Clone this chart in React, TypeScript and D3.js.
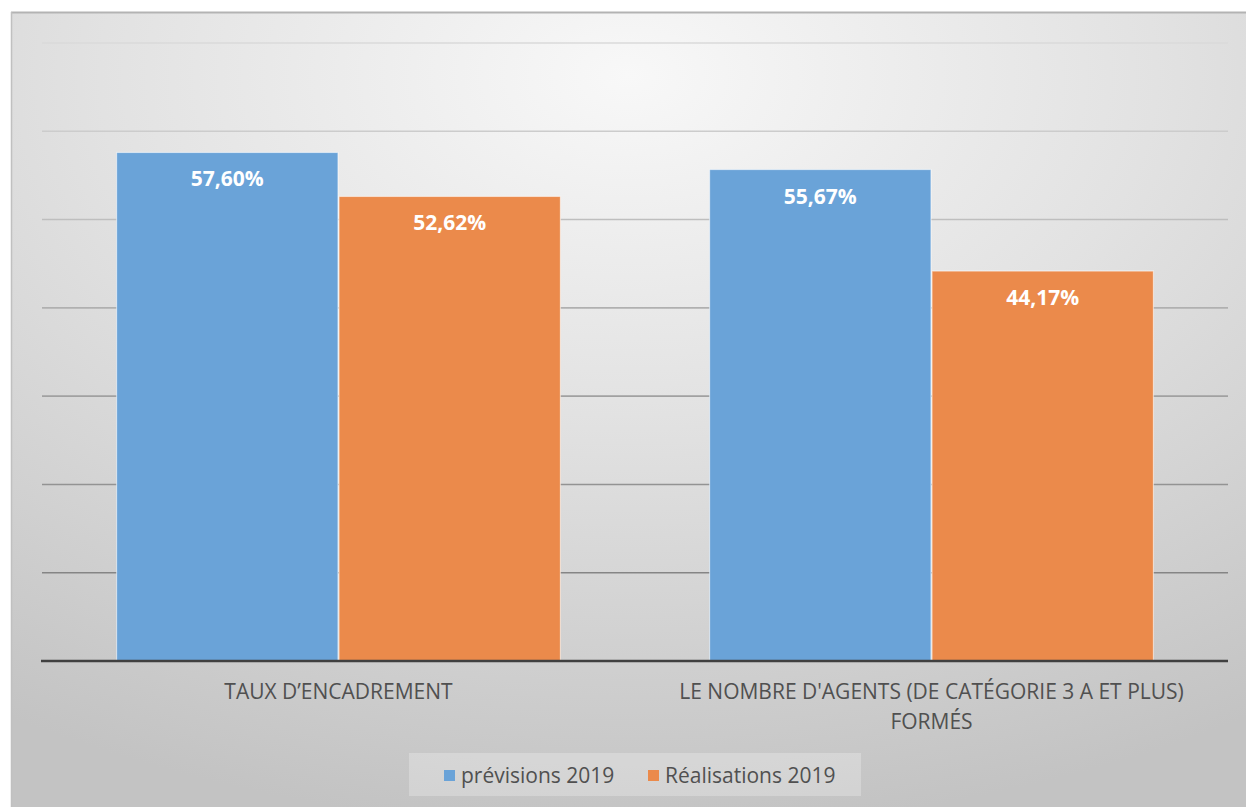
import React from "react";
import * as d3 from "d3";

const categories = [
  "TAUX D’ENCADREMENT",
  "LE NOMBRE D'AGENTS (DE CATÉGORIE 3 A ET PLUS)\nFORMÉS",
];
const seriesNames = ["prévisions 2019", "Réalisations 2019"];
const previsions = [57.6, 55.67];
const realisations = [52.62, 44.17];
const seriesColors = ["#6aa3d8", "#eb8a4b"];
const yTicks = [0, 10, 20, 30, 40, 50, 60, 70];

const W = 1246;
const H = 807;
const panel = { x: 11, y: 12 };
const plot = { left: 42, right: 1228, top: 43, bottom: 661 };
const FONT = "'Open Sans', 'Noto Sans', sans-serif";

export default function App() {
  const seriesValues = [previsions, realisations];
  const x0 = d3
    .scaleBand<string>()
    .domain(categories)
    .range([plot.left, plot.right])
    .paddingInner(0)
    .paddingOuter(0);
  const x1 = d3
    .scaleBand<string>()
    .domain(seriesNames)
    .range([0, x0.bandwidth()])
    .paddingInner(0)
    .paddingOuter(0.333);
  const y = d3
    .scaleLinear()
    .domain([0, d3.max(yTicks) as number])
    .range([plot.bottom, plot.top]);
  const gridColor = d3
    .scaleLinear<string>()
    .domain([70, 10])
    .range(["#dadada", "#858585"]);
  const fmt = (v: number) => v.toFixed(2).replace(".", ",") + "%";

  const legendCx = (plot.left + plot.right) / 2;
  const legendItems = [
    { dx: -191, name: seriesNames[0], color: seriesColors[0] },
    { dx: 13, name: seriesNames[1], color: seriesColors[1] },
  ];

  return (
    <>
      <style>{`body{margin:0;background:#fff}`}</style>
      <svg width={W} height={H} style={{ display: "block" }} fontFamily={FONT}>
        <defs>
          <radialGradient id="bg" cx="0.5" cy="0.08" r="0.95" fx="0.5" fy="0.08">
            <stop offset="0" stopColor="#f8f8f8" />
            <stop offset="0.45" stopColor="#e2e2e2" />
            <stop offset="1" stopColor="#c3c3c3" />
          </radialGradient>
        </defs>
        <rect x={panel.x} y={panel.y} width={W - panel.x} height={H - panel.y} fill="url(#bg)" />
        <line x1={panel.x} x2={W} y1={panel.y + 0.5} y2={panel.y + 0.5} stroke="#b3b3b3" strokeWidth={2} />
        <line x1={panel.x + 0.5} x2={panel.x + 0.5} y1={panel.y} y2={H} stroke="#c0c0c0" strokeWidth={1.5} />

        {yTicks
          .filter((t) => t > 0)
          .map((t) => (
            <line
              key={t}
              x1={plot.left}
              x2={plot.right}
              y1={y(t)}
              y2={y(t)}
              stroke={gridColor(t)}
              strokeWidth={1.6}
            />
          ))}

        {categories.map((c, ci) => (
          <g key={c} transform={`translate(${x0(c)},0)`}>
            {seriesNames.map((s, si) => {
              const v = seriesValues[si][ci];
              const bx = x1(s) as number;
              const bw = x1.bandwidth();
              return (
                <g key={s}>
                  <rect
                    x={bx + 0.5}
                    y={y(v)}
                    width={bw - 1}
                    height={y(0) - y(v)}
                    fill={seriesColors[si]}
                    stroke="#ffffff"
                    strokeOpacity={0.55}
                    strokeWidth={1.2}
                  />
                  <text
                    x={bx + bw / 2}
                    y={y(v) + 34}
                    textAnchor="middle"
                    fill="#ffffff"
                    fontWeight={700}
                    fontSize={21}
                  >
                    {fmt(v)}
                  </text>
                </g>
              );
            })}
          </g>
        ))}

        <line x1={plot.left - 1} x2={plot.right} y1={y(0)} y2={y(0)} stroke="#404040" strokeWidth={2.5} />

        {categories.map((c) => (
          <text
            key={c}
            x={(x0(c) as number) + x0.bandwidth() / 2}
            y={y(0) + 38}
            textAnchor="middle"
            fill="#505050"
            fontSize={21}
          >
            {c.split("\n").map((line, li) => (
              <tspan key={li} x={(x0(c) as number) + x0.bandwidth() / 2} dy={li === 0 ? 0 : 30}>
                {line}
              </tspan>
            ))}
          </text>
        ))}

        <rect x={legendCx - 226} y={753} width={452} height={43} fill="#ffffff" fillOpacity={0.25} />
        {legendItems.map((it) => (
          <g key={it.name}>
            <rect x={legendCx + it.dx} y={770} width={11} height={11} fill={it.color} />
            <text x={legendCx + it.dx + 17} y={783} fill="#505050" fontSize={21}>
              {it.name}
            </text>
          </g>
        ))}
      </svg>
    </>
  );
}
